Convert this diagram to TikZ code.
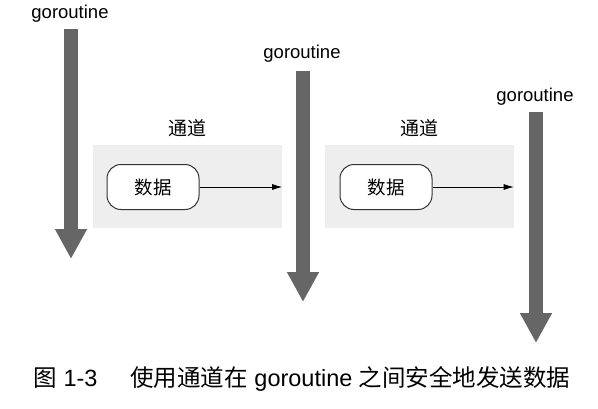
\documentclass[tikz,border=0pt]{standalone}
\usepackage{fontspec}
\setmainfont{Liberation Sans}
\newfontfamily\cjk{Noto Sans CJK SC}
\usetikzlibrary{positioning,arrows.meta}
\definecolor{rungray}{HTML}{666666}
\definecolor{chgray}{HTML}{EEEEEE}
\definecolor{edgegray}{HTML}{333333}

\begin{document}
\begin{tikzpicture}
		[x=1pt,y=-1pt,
		goname/.style={font=\fontsize{18.5}{18.5}\selectfont, inner sep=0pt},
		gorun/.style={draw=rungray, line width=14pt,
			-{Triangle[length=30pt,width=30pt]}},
		chan/.style={fill=chgray, minimum width=189pt,
			minimum height=83pt, inner sep=0pt},
		chname/.style={font=\cjk\fontsize{19}{19}\selectfont},
		msg/.style={draw=edgegray, line width=1pt, fill=white,
			rounded corners=14pt, minimum width=92pt, minimum height=45pt,
			font=\cjk\fontsize{18.5}{18.5}\selectfont},
		send/.style={draw=black, line width=0.8pt,
			-{Latex[length=10pt,width=6pt]}}]
		\useasboundingbox (0,0) rectangle (598,408);
		% goroutines
		\node[goname] (g1) at (70,14) {goroutine};
		\node[goname] (g2) at (302,54) {goroutine};
		\node[goname] (g3) at (535,97) {goroutine};
		\coordinate (g1top) at (71,29);
		\coordinate (g1end) at (71,259);
		\coordinate (g2top) at (303,71);
		\coordinate (g2end) at (303,302);
		\coordinate (g3top) at (536,112);
		\coordinate (g3end) at (536,343);
		\draw[gorun] (g1top) -- (g1end);
		\draw[gorun] (g2top) -- (g2end);
		\draw[gorun] (g3top) -- (g3end);
		% channels
		\node[chan] (ch1) at (187.5,186.5) {};
		\node[chan] (ch2) at (419,186.5) {};
		\node[chname] (t1) [above=4.5pt of ch1] {通道};
		\node[chname] (t2) [above=4.5pt of ch2] {通道};
		\node[msg] (d1) at (153,187) {数据};
		\node[msg] (d2) at (386,187) {数据};
		\draw[send] (d1) -- (d1 -| ch1.east);
		\draw[send] (d2) -- (d2 -| ch2.east);
		\node[font=\fontsize{23.5}{23.5}\selectfont] (cap) at (302,379)
			{{\cjk 图} 1-3\hspace{1.4em}{\cjk 使用通道在} goroutine {\cjk 之间安全地发送数据}};
	\end{tikzpicture}
\end{document}
